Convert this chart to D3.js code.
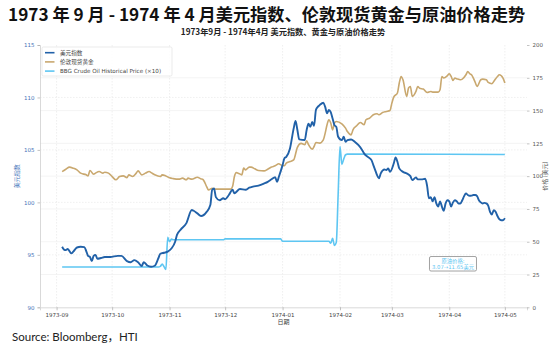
<!DOCTYPE html>
<html>
<head>
<meta charset="utf-8">
<script src="https://cdn.jsdelivr.net/npm/d3@7"></script>
<style>
  body { margin: 0; background: #ffffff; }
  svg { display: block; }
</style>
</head>
<body>
<svg id="chart" width="550" height="348"></svg>
<script>
// ---- data -------------------------------------------------------------
// US dollar index (left axis)
const dollarIndex = [
  ["1973-09-04", 95.77], ["1973-09-05", 95.5], ["1973-09-06", 95.45], ["1973-09-07", 95.55],
  ["1973-09-09", 95.14], ["1973-09-10", 95.3], ["1973-09-12", 95.7], ["1973-09-14", 95.77],
  ["1973-09-16", 95.74], ["1973-09-17", 95.36], ["1973-09-18", 94.9], ["1973-09-19", 94.8],
  ["1973-09-20", 94.4], ["1973-09-21", 94.9], ["1973-09-22", 95.0], ["1973-09-23", 94.63],
  ["1973-09-25", 94.7], ["1973-09-27", 94.8], ["1973-09-30", 94.8], ["1973-10-04", 94.9],
  ["1973-10-06", 94.9], ["1973-10-09", 94.4], ["1973-10-11", 94.3], ["1973-10-13", 94.5],
  ["1973-10-15", 94.3], ["1973-10-17", 93.93], ["1973-10-18", 94.3], ["1973-10-20", 93.98],
  ["1973-10-22", 93.87], ["1973-10-24", 93.96], ["1973-10-26", 94.7], ["1973-10-27", 95.1],
  ["1973-10-29", 95.2], ["1973-10-31", 95.3], ["1973-11-02", 95.6], ["1973-11-04", 96.25],
  ["1973-11-05", 96.9], ["1973-11-07", 97.4], ["1973-11-10", 98.0], ["1973-11-13", 99.27],
  ["1973-11-14", 99.2], ["1973-11-16", 98.95], ["1973-11-18", 98.7], ["1973-11-21", 99.1],
  ["1973-11-23", 99.74], ["1973-11-24", 101.2], ["1973-11-25", 101.33], ["1973-11-26", 100.5],
  ["1973-11-28", 100.2], ["1973-11-30", 100.4], ["1973-12-01", 100.3], ["1973-12-03", 100.7],
  ["1973-12-05", 101.2], ["1973-12-06", 100.86], ["1973-12-07", 101.0], ["1973-12-09", 101.27],
  ["1973-12-12", 101.2], ["1973-12-14", 101.4], ["1973-12-16", 101.5], ["1973-12-19", 101.6],
  ["1973-12-22", 101.8], ["1973-12-24", 101.96], ["1973-12-26", 102.2], ["1973-12-28", 102.4],
  ["1973-12-29", 101.96], ["1973-12-30", 102.44], ["1974-01-01", 103.55], ["1974-01-02", 104.2],
  ["1974-01-03", 104.34], ["1974-01-05", 105.14], ["1974-01-07", 107.05], ["1974-01-08", 107.77],
  ["1974-01-09", 106.9], ["1974-01-10", 106.0], ["1974-01-13", 105.95], ["1974-01-14", 106.9],
  ["1974-01-15", 107.5], ["1974-01-16", 107.2], ["1974-01-17", 107.67], ["1974-01-18", 107.3],
  ["1974-01-19", 108.8], ["1974-01-20", 109.1], ["1974-01-21", 109.27], ["1974-01-23", 109.5],
  ["1974-01-24", 109.1], ["1974-01-25", 108.5], ["1974-01-26", 108.8], ["1974-01-27", 108.6],
  ["1974-01-28", 108.0], ["1974-01-29", 107.36], ["1974-01-30", 107.2], ["1974-01-31", 106.25],
  ["1974-02-02", 105.93], ["1974-02-03", 106.25], ["1974-02-04", 105.77], ["1974-02-05", 105.93],
  ["1974-02-07", 106.0], ["1974-02-09", 105.77], ["1974-02-11", 105.46], ["1974-02-13", 104.98],
  ["1974-02-14", 104.67], ["1974-02-16", 104.34], ["1974-02-18", 104.03], ["1974-02-19", 103.55],
  ["1974-02-20", 103.08], ["1974-02-21", 102.6], ["1974-02-22", 102.29], ["1974-02-23", 102.76],
  ["1974-02-25", 103.14], ["1974-02-26", 103.08], ["1974-02-27", 103.24], ["1974-02-28", 102.91],
  ["1974-03-02", 103.7], ["1974-03-03", 104.29], ["1974-03-04", 103.87], ["1974-03-05", 103.24],
  ["1974-03-07", 102.91], ["1974-03-09", 102.76], ["1974-03-11", 102.5], ["1974-03-12", 102.12],
  ["1974-03-14", 102.38], ["1974-03-15", 102.19], ["1974-03-17", 102.19], ["1974-03-19", 102.25],
  ["1974-03-20", 101.6], ["1974-03-21", 100.4], ["1974-03-22", 100.5], ["1974-03-23", 100.1],
  ["1974-03-24", 100.5], ["1974-03-25", 99.9], ["1974-03-26", 99.6], ["1974-03-27", 100.1],
  ["1974-03-28", 99.6], ["1974-03-29", 99.2], ["1974-03-30", 99.9], ["1974-03-31", 100.2],
  ["1974-04-01", 100.1], ["1974-04-02", 99.6], ["1974-04-03", 100.0], ["1974-04-04", 100.2],
  ["1974-04-05", 100.1], ["1974-04-06", 99.9], ["1974-04-07", 99.9], ["1974-04-08", 100.2],
  ["1974-04-09", 100.6], ["1974-04-10", 100.86], ["1974-04-11", 100.7], ["1974-04-12", 100.63],
  ["1974-04-13", 100.65], ["1974-04-14", 100.7], ["1974-04-15", 100.7], ["1974-04-16", 100.6],
  ["1974-04-17", 100.2], ["1974-04-18", 100.0], ["1974-04-19", 99.9], ["1974-04-20", 99.95],
  ["1974-04-21", 99.9], ["1974-04-22", 99.7], ["1974-04-23", 99.1], ["1974-04-24", 98.85],
  ["1974-04-25", 99.25], ["1974-04-26", 99.1], ["1974-04-27", 98.7], ["1974-04-28", 98.4],
  ["1974-04-29", 98.3], ["1974-04-30", 98.3], ["1974-05-01", 98.5]
];

// London spot gold, USD (right axis)
const londonGold = [
  ["1973-09-04", 103.5], ["1973-09-06", 105.3], ["1973-09-08", 106.9], ["1973-09-10", 106.1],
  ["1973-09-12", 104.8], ["1973-09-14", 102.3], ["1973-09-17", 101.0], ["1973-09-18", 100.2],
  ["1973-09-19", 104.3], ["1973-09-21", 101.5], ["1973-09-22", 102.3], ["1973-09-24", 103.5],
  ["1973-09-26", 102.3], ["1973-09-27", 103.0], ["1973-09-29", 102.3], ["1973-10-01", 99.7],
  ["1973-10-03", 97.2], ["1973-10-05", 99.7], ["1973-10-07", 100.2], ["1973-10-09", 98.9],
  ["1973-10-10", 101.0], ["1973-10-12", 99.7], ["1973-10-14", 102.3], ["1973-10-15", 104.0],
  ["1973-10-17", 101.0], ["1973-10-19", 102.3], ["1973-10-21", 103.5], ["1973-10-22", 102.7],
  ["1973-10-24", 101.0], ["1973-10-27", 99.7], ["1973-10-28", 101.0], ["1973-10-30", 100.2],
  ["1973-11-01", 98.7], ["1973-11-03", 98.1], ["1973-11-06", 97.7], ["1973-11-08", 98.5],
  ["1973-11-10", 97.2], ["1973-11-11", 98.5], ["1973-11-13", 97.7], ["1973-11-16", 99.2],
  ["1973-11-18", 97.9], ["1973-11-19", 97.5], ["1973-11-21", 92.1], ["1973-11-22", 89.5],
  ["1973-11-24", 90.8], ["1973-11-26", 90.1], ["1973-11-30", 90.1], ["1973-12-04", 90.1],
  ["1973-12-05", 92.1], ["1973-12-06", 99.7], ["1973-12-07", 102.7], ["1973-12-08", 102.3],
  ["1973-12-10", 101.0], ["1973-12-11", 106.1], ["1973-12-12", 104.8], ["1973-12-14", 106.9],
  ["1973-12-15", 106.9], ["1973-12-17", 105.6], ["1973-12-19", 104.3], ["1973-12-22", 104.0],
  ["1973-12-24", 105.3], ["1973-12-26", 106.9], ["1973-12-28", 107.9], ["1973-12-30", 109.4],
  ["1973-12-31", 108.6], ["1974-01-02", 107.9], ["1974-01-03", 109.9], ["1974-01-05", 111.1],
  ["1974-01-07", 112.4], ["1974-01-09", 122.0], ["1974-01-11", 125.0], ["1974-01-13", 124.0],
  ["1974-01-14", 127.0], ["1974-01-15", 124.0], ["1974-01-17", 120.6], ["1974-01-18", 122.6],
  ["1974-01-19", 125.6], ["1974-01-21", 125.2], ["1974-01-23", 127.7], ["1974-01-24", 132.8],
  ["1974-01-25", 139.2], ["1974-01-26", 143.0], ["1974-01-27", 140.5], ["1974-01-28", 135.3],
  ["1974-01-29", 140.5], ["1974-01-30", 141.7], ["1974-02-02", 139.9], ["1974-02-04", 136.6],
  ["1974-02-05", 134.0], ["1974-02-07", 131.5], ["1974-02-08", 135.3], ["1974-02-10", 138.4],
  ["1974-02-12", 140.9], ["1974-02-14", 139.2], ["1974-02-15", 143.0], ["1974-02-17", 144.3],
  ["1974-02-19", 146.8], ["1974-02-21", 147.6], ["1974-02-22", 146.8], ["1974-02-24", 148.5],
  ["1974-02-26", 149.3], ["1974-02-28", 150.1], ["1974-03-01", 155.7], ["1974-03-02", 160.3],
  ["1974-03-04", 163.4], ["1974-03-05", 171.0], ["1974-03-06", 176.0], ["1974-03-07", 173.5],
  ["1974-03-09", 160.8], ["1974-03-10", 167.2], ["1974-03-11", 168.4], ["1974-03-12", 160.8],
  ["1974-03-14", 164.6], ["1974-03-15", 168.4], ["1974-03-16", 167.0], ["1974-03-18", 166.4],
  ["1974-03-20", 163.8], ["1974-03-22", 164.6], ["1974-03-23", 164.1], ["1974-03-26", 164.1],
  ["1974-03-27", 165.9], ["1974-03-28", 176.0], ["1974-03-29", 174.8], ["1974-03-31", 176.6],
  ["1974-04-01", 178.1], ["1974-04-02", 176.0], ["1974-04-03", 173.0], ["1974-04-04", 174.8],
  ["1974-04-05", 174.3], ["1974-04-07", 173.5], ["1974-04-08", 174.0], ["1974-04-10", 177.3],
  ["1974-04-11", 179.8], ["1974-04-12", 178.1], ["1974-04-13", 177.3], ["1974-04-14", 174.8],
  ["1974-04-15", 171.5], ["1974-04-16", 168.4], ["1974-04-18", 173.5], ["1974-04-19", 174.0],
  ["1974-04-21", 173.5], ["1974-04-22", 171.5], ["1974-04-24", 170.5], ["1974-04-25", 172.2],
  ["1974-04-27", 176.0], ["1974-04-28", 177.3], ["1974-04-30", 174.8], ["1974-05-01", 171.0]
];

// BBG crude oil historical price, USD per barrel (plotted x10 on the right axis)
const crudeOil = [
  ["1973-09-04", 3.07], ["1973-10-26", 3.07], ["1973-10-27", 3.12], ["1973-10-28", 3.3],
  ["1973-10-29", 3.1], ["1973-10-30", 2.88], ["1973-10-31", 5.34], ["1973-11-01", 5.0],
  ["1973-11-02", 5.2], ["1973-11-03", 5.15], ["1973-11-30", 5.15], ["1973-12-01", 5.22],
  ["1973-12-31", 5.22], ["1974-01-01", 5.04], ["1974-01-26", 5.04], ["1974-01-27", 4.88],
  ["1974-01-28", 5.27], ["1974-01-29", 4.72], ["1974-01-30", 4.95], ["1974-01-31", 8.6],
  ["1974-02-01", 12.26], ["1974-02-02", 10.9], ["1974-02-03", 11.3], ["1974-02-04", 11.63],
  ["1974-02-05", 11.68], ["1974-05-01", 11.65]
];
const oilScaleFactor = 10;

const seriesNames = ["美元指数", "伦敦现货黄金", "BBG Crude Oil Historical Price (×10)"];
const leftTicks = [90, 95, 100, 105, 110, 115];
const rightTicks = [0, 25, 50, 75, 100, 125, 150, 175, 200];
const monthTicks = ["1973-09-01", "1973-10-01", "1973-11-01", "1973-12-01", "1974-01-01",
                    "1974-02-01", "1974-03-01", "1974-04-01", "1974-05-01"];

const mainTitle = "1973 年 9 月 - 1974 年 4 月美元指数、伦敦现货黄金与原油价格走势";
const subTitle = "1973年9月 - 1974年4月 美元指数、黄金与原油价格走势";
const leftLabel = "美元指数";
const rightLabel = "价格 (美元)";
const xLabel = "日期";
const noteLines = ["原油价格:", "3.07→11.65美元"];
const noteAnchor = ["1974-04-03", 33];
const sourceText = "Source: Bloomberg，HTI";

// ---- layout -----------------------------------------------------------
const plot = { left: 40, right: 527, top: 45, bottom: 307.3 };
const colors = { dollar: "#2161a8", gold: "#c9a86f", oil: "#5ec6f2" };
const cjk = "'Noto Sans CJK SC', 'DejaVu Sans', sans-serif";
const tickFont = "'DejaVu Sans', 'Noto Sans CJK SC', sans-serif";

const parse = d3.utcParse("%Y-%m-%d");
const toPts = arr => arr.map(([d, v]) => ({ date: parse(d), value: v }));
const dollarPts = toPts(dollarIndex);
const goldPts = toPts(londonGold);
const oilPts = toPts(crudeOil).map(p => ({ date: p.date, value: p.value * oilScaleFactor }));

// Time axis padded by 5% on either side of the data range
const allDates = [...dollarPts, ...goldPts, ...oilPts].map(p => p.date);
const [dMin, dMax] = d3.extent(allDates);
const pad = (dMax - dMin) * 0.05;
const x = d3.scaleUtc()
  .domain([new Date(+dMin - pad), new Date(+dMax + pad)])
  .range([plot.left, plot.right]);
const yLeft = d3.scaleLinear().domain([90, 115]).range([plot.bottom, plot.top]);
const yRight = d3.scaleLinear().domain([0, 200]).range([plot.bottom, plot.top]);

const svg = d3.select("#chart");

// ---- titles -----------------------------------------------------------
svg.append("text")
  .attr("x", 8).attr("y", 20.5)
  .attr("font-family", cjk).attr("font-weight", 700).attr("font-size", 17.2)
  .attr("fill", "#111")
  .text(mainTitle);

svg.append("text")
  .attr("x", 283).attr("y", 34.5)
  .attr("text-anchor", "middle")
  .attr("font-family", cjk).attr("font-weight", 700).attr("font-size", 8.2)
  .attr("fill", "#222")
  .text(subTitle);

// ---- grid -------------------------------------------------------------
const grid = svg.append("g");
grid.selectAll("line.vx").data(monthTicks.map(parse)).join("line")
  .attr("x1", d => x(d)).attr("x2", d => x(d))
  .attr("y1", plot.top).attr("y2", plot.bottom)
  .attr("stroke", "#e4e4e4").attr("stroke-width", 0.6).attr("stroke-dasharray", "1.5,1.5");
grid.selectAll("line.hl").data(leftTicks.slice(1, -1)).join("line")
  .attr("x1", plot.left).attr("x2", plot.right)
  .attr("y1", d => yLeft(d)).attr("y2", d => yLeft(d))
  .attr("stroke", "#e6e6e6").attr("stroke-width", 0.6).attr("stroke-dasharray", "1.5,1.5");
grid.selectAll("line.hr").data(rightTicks.slice(1, -1)).join("line")
  .attr("x1", plot.left).attr("x2", plot.right)
  .attr("y1", d => yRight(d)).attr("y2", d => yRight(d))
  .attr("stroke", "#ececec").attr("stroke-width", 0.6);

// ---- axes -------------------------------------------------------------
const styleAxis = (g, color) => {
  g.select(".domain").attr("stroke", "#cfcfcf").attr("stroke-width", 0.8);
  g.selectAll(".tick line").attr("stroke", "#9a9a9a").attr("stroke-width", 0.6);
  g.selectAll(".tick text").attr("fill", color)
    .attr("font-family", tickFont).attr("font-size", 5.5);
};

svg.append("g")
  .attr("transform", `translate(0,${plot.bottom})`)
  .call(d3.axisBottom(x).tickValues(monthTicks.map(parse))
    .tickFormat(d3.utcFormat("%Y-%m")).tickSize(3).tickPadding(2.5))
  .call(g => styleAxis(g, "#444"));

svg.append("g")
  .attr("transform", `translate(${plot.left},0)`)
  .call(d3.axisLeft(yLeft).tickValues(leftTicks).tickSize(2.5).tickPadding(3))
  .call(g => styleAxis(g, "#3f72b8"));

svg.append("g")
  .attr("transform", `translate(${plot.right},0)`)
  .call(d3.axisRight(yRight).tickValues(rightTicks).tickSize(2.5).tickPadding(3))
  .call(g => styleAxis(g, "#555"))
  .call(g => g.select(".domain").remove());

svg.append("text")
  .attr("transform", `translate(19,${(plot.top + plot.bottom) / 2}) rotate(-90)`)
  .attr("text-anchor", "middle")
  .attr("font-family", cjk).attr("font-size", 6).attr("fill", "#3f72b8")
  .text(leftLabel);

svg.append("text")
  .attr("transform", `translate(547,${(plot.top + plot.bottom) / 2}) rotate(-90)`)
  .attr("text-anchor", "middle")
  .attr("font-family", cjk).attr("font-size", 6).attr("fill", "#555")
  .text(rightLabel);

svg.append("text")
  .attr("x", (plot.left + plot.right) / 2).attr("y", 324)
  .attr("text-anchor", "middle")
  .attr("font-family", cjk).attr("font-size", 6).attr("fill", "#444")
  .text(xLabel);

// ---- series -----------------------------------------------------------
const lineLeft = d3.line().x(d => x(d.date)).y(d => yLeft(d.value)).curve(d3.curveMonotoneX);
const lineRight = d3.line().x(d => x(d.date)).y(d => yRight(d.value)).curve(d3.curveMonotoneX);

svg.append("path").datum(oilPts)
  .attr("d", lineRight).attr("fill", "none")
  .attr("stroke", colors.oil).attr("stroke-width", 1.6).attr("stroke-linejoin", "round");
svg.append("path").datum(goldPts)
  .attr("d", lineRight).attr("fill", "none")
  .attr("stroke", colors.gold).attr("stroke-width", 1.6).attr("stroke-linejoin", "round");
svg.append("path").datum(dollarPts)
  .attr("d", lineLeft).attr("fill", "none")
  .attr("stroke", colors.dollar).attr("stroke-width", 1.9).attr("stroke-linejoin", "round");

// ---- legend -----------------------------------------------------------
const legend = svg.append("g").attr("transform", "translate(42,47)");
legend.append("rect")
  .attr("width", 130).attr("height", 29).attr("rx", 1.5)
  .attr("fill", "#ffffff").attr("fill-opacity", 0.85)
  .attr("stroke", "#dddddd").attr("stroke-width", 0.6);
const legendColors = [colors.dollar, colors.gold, colors.oil];
seriesNames.forEach((name, i) => {
  const cy = 5.7 + i * 9.2;
  legend.append("line")
    .attr("x1", 3).attr("x2", 12.5).attr("y1", cy).attr("y2", cy)
    .attr("stroke", legendColors[i]).attr("stroke-width", 1.6);
  legend.append("text")
    .attr("x", 18).attr("y", cy + 2)
    .attr("font-family", tickFont).attr("font-size", 5.6).attr("fill", "#444")
    .text(name);
});

// ---- annotation -------------------------------------------------------
const nx = x(parse(noteAnchor[0]));
const ny = yRight(noteAnchor[1]);
const note = svg.append("g").attr("transform", `translate(${nx},${ny})`);
note.append("rect")
  .attr("x", -23.5).attr("y", -7.5).attr("width", 47).attr("height", 14.5).attr("rx", 1.5)
  .attr("fill", "#ffffff").attr("stroke", "#8a8a8a").attr("stroke-width", 0.8);
noteLines.forEach((t, i) => {
  note.append("text")
    .attr("x", 0).attr("y", -1.5 + i * 6.2)
    .attr("text-anchor", "middle")
    .attr("font-family", tickFont).attr("font-size", 5.3).attr("fill", colors.oil)
    .text(t);
});

// ---- source -----------------------------------------------------------
svg.append("text")
  .attr("x", 12).attr("y", 341)
  .attr("font-family", "Lato, 'Open Sans', 'Noto Sans CJK SC', sans-serif")
  .attr("font-size", 11.5).attr("fill", "#222")
  .text(sourceText);
</script>
</body>
</html>
